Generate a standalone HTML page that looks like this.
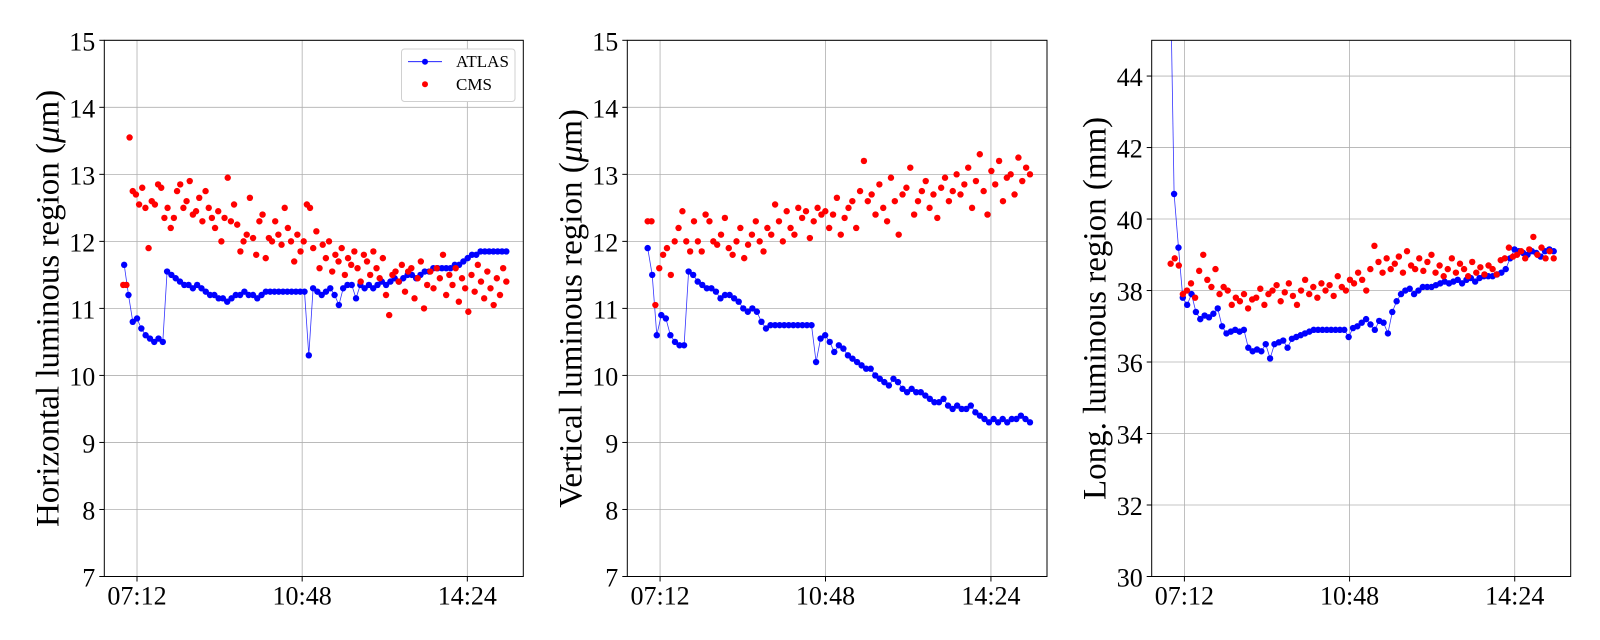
<!DOCTYPE html>
<html><head><meta charset="utf-8"><style>
html,body{margin:0;padding:0;background:#fff;}
svg{display:block;font-family:"Liberation Serif",serif;}
</style></head><body>
<svg id="c" width="1600" height="640" xmlns="http://www.w3.org/2000/svg"></svg>
<script>
const xTickLabels = ["07:12","10:48","14:24"];
const xTickHours = [7.2, 10.8, 14.4];
const p1Ticks = [7,8,9,10,11,12,13,14,15];
const p2Ticks = [7,8,9,10,11,12,13,14,15];
const p3Ticks = [30,32,34,36,38,40,42,44];
const atlasH = [11.65,11.2,10.8,10.85,10.7,10.6,10.55,10.5,10.55,10.5,11.55,11.5,11.45,11.4,11.35,11.35,11.3,11.35,11.3,11.25,11.2,11.2,11.15,11.15,11.1,11.15,11.2,11.2,11.25,11.2,11.2,11.15,11.2,11.25,11.25,11.25,11.25,11.25,11.25,11.25,11.25,11.25,11.25,10.3,11.3,11.25,11.2,11.25,11.3,11.2,11.05,11.3,11.35,11.35,11.15,11.35,11.3,11.35,11.3,11.35,11.4,11.35,11.4,11.45,11.4,11.45,11.5,11.5,11.45,11.5,11.55,11.55,11.6,11.6,11.6,11.6,11.6,11.65,11.65,11.7,11.75,11.8,11.8,11.85,11.85,11.85,11.85,11.85,11.85,11.85];
const cmsH = [11.35,11.35,13.55,12.75,12.7,12.55,12.8,12.5,11.9,12.6,12.55,12.85,12.8,12.35,12.5,12.2,12.35,12.75,12.85,12.5,12.6,12.9,12.4,12.45,12.65,12.3,12.75,12.5,12.35,12.2,12.45,12.0,12.35,12.95,12.3,12.55,12.25,11.85,12.0,12.1,12.65,12.05,11.8,12.3,12.4,11.75,12.05,12.0,12.3,12.1,11.95,12.5,12.2,12.0,11.7,12.1,11.85,12.0,12.55,12.5,11.9,12.15,11.6,11.95,11.75,12.0,11.55,11.8,11.7,11.9,11.5,11.75,11.65,11.85,11.6,11.4,11.8,11.7,11.5,11.85,11.6,11.45,11.75,11.2,10.9,11.5,11.55,11.4,11.65,11.25,11.55,11.6,11.15,11.45,11.7,11.0,11.35,11.55,11.3,11.6,11.45,11.8,11.2,11.5,11.35,11.6,11.1,11.45,11.3,10.95,11.5,11.25,11.65,11.4,11.15,11.55,11.3,11.05,11.45,11.2,11.6,11.4];
const atlasV = [11.9,11.5,10.6,10.9,10.85,10.6,10.5,10.45,10.45,11.55,11.5,11.4,11.35,11.3,11.3,11.25,11.15,11.2,11.2,11.15,11.1,11.0,10.95,11.0,10.95,10.8,10.7,10.75,10.75,10.75,10.75,10.75,10.75,10.75,10.75,10.75,10.75,10.2,10.55,10.6,10.5,10.35,10.45,10.4,10.3,10.25,10.2,10.15,10.1,10.1,10.0,9.95,9.9,9.85,9.95,9.9,9.8,9.75,9.8,9.75,9.75,9.7,9.65,9.6,9.6,9.65,9.55,9.5,9.55,9.5,9.5,9.55,9.45,9.4,9.35,9.3,9.35,9.3,9.35,9.3,9.35,9.35,9.4,9.35,9.3];
const cmsV = [12.3,12.3,11.05,11.6,11.8,11.9,11.5,12.0,12.2,12.45,12.0,11.85,12.3,12.0,11.85,12.4,12.3,12.0,11.95,12.1,12.35,11.9,11.8,12.0,12.2,11.75,11.95,12.1,12.3,12.0,11.85,12.2,12.1,12.55,12.3,12.0,12.45,12.2,12.1,12.5,12.35,12.45,12.05,12.3,12.5,12.4,12.45,12.2,12.4,12.65,12.1,12.35,12.5,12.6,12.2,12.75,13.2,12.6,12.7,12.4,12.85,12.5,12.3,12.95,12.6,12.1,12.7,12.8,13.1,12.4,12.6,12.75,12.9,12.5,12.7,12.35,12.8,12.95,12.6,12.75,13.0,12.7,12.85,13.1,12.5,12.9,13.3,12.75,12.4,13.05,12.85,13.2,12.6,12.95,13.0,12.7,13.25,12.9,13.1,13.0];
const atlasL = [48,40.7,39.2,37.8,37.6,37.9,37.4,37.2,37.3,37.25,37.35,37.5,37.0,36.8,36.85,36.9,36.85,36.9,36.4,36.3,36.35,36.3,36.5,36.1,36.5,36.55,36.6,36.4,36.65,36.7,36.75,36.8,36.85,36.9,36.9,36.9,36.9,36.9,36.9,36.9,36.9,36.7,36.95,37.0,37.1,37.2,37.05,36.9,37.15,37.1,36.8,37.4,37.7,37.9,38.0,38.05,37.9,38.0,38.1,38.1,38.1,38.15,38.2,38.25,38.2,38.25,38.3,38.2,38.3,38.35,38.25,38.35,38.4,38.4,38.4,38.45,38.5,38.6,38.9,39.15,39.1,39.05,39.0,39.1,39.05,38.95,39.1,39.15,39.1];
const cmsL = [38.75,38.9,38.7,37.9,38.0,38.2,37.8,38.55,39.0,38.3,38.1,38.6,37.9,38.1,38.0,37.6,37.8,37.7,37.9,37.5,37.75,37.8,38.05,37.6,37.9,38.0,38.15,37.7,37.95,38.2,37.85,37.6,38.0,38.3,37.9,38.1,37.8,38.2,38.0,38.15,37.85,38.4,38.1,38.0,38.3,38.2,38.5,38.3,38.0,38.6,39.25,38.8,38.5,38.9,38.6,38.75,38.95,38.5,39.1,38.7,38.6,38.9,38.55,38.8,39.0,38.5,38.7,38.4,38.6,38.9,38.5,38.75,38.6,38.4,38.8,38.5,38.65,38.45,38.7,38.6,38.45,38.85,38.9,39.2,38.95,39.0,39.1,38.9,39.15,39.5,39.0,39.2,38.9,39.1,38.9];

const NS="http://www.w3.org/2000/svg";
const svg=document.getElementById('c');
function mk(tag,attrs,parent){const e=document.createElementNS(NS,tag);for(const k in attrs)e.setAttribute(k,attrs[k]);(parent||svg).appendChild(e);return e;}

const panels=[
 {x0:104.3,x1:523.3,yMin:7,yMax:15,ticks:p1Ticks,label:"Horizontal luminous region (",mu:true,atlas:atlasH,cms:cmsH,aT:[6.92,15.25],cT:[6.9,15.25],legend:true,name:"horizontal"},
 {x0:627.3,x1:1047,yMin:7,yMax:15,ticks:p2Ticks,label:"Vertical luminous region (",mu:true,atlas:atlasV,cms:cmsV,aT:[6.93,15.25],cT:[6.93,15.25],name:"vertical"},
 {x0:1151.7,x1:1570.7,yMin:30,yMax:45,ticks:p3Ticks,label:"Long. luminous region (mm)",mu:false,atlas:atlasL,cms:cmsL,aT:[6.88,15.25],cT:[6.9,15.25],name:"longitudinal"}
];
const Y0=40.3,Y1=576.5,H0=6.487,H1=15.62;
panels.forEach(p=>{
 const g=mk('g',{});
 
 
 const xs=h=>p.x0+(h-H0)/(H1-H0)*(p.x1-p.x0);
 const ys=v=>Y1-(v-p.yMin)/(p.yMax-p.yMin)*(Y1-Y0);
 const cid='clip-'+p.name;
 const cp=mk('clipPath',{id:cid},g);mk('rect',{x:p.x0,y:Y0,width:p.x1-p.x0,height:Y1-Y0},cp);
 p.ticks.forEach(t=>{const y=ys(t);
  const l=mk('line',{x1:p.x0,x2:p.x1,y1:y,y2:y,stroke:'#b0b0b0','stroke-width':0.8},g);
  
  mk('line',{x1:p.x0-5,x2:p.x0,y1:y,y2:y,stroke:'#000','stroke-width':1},g);
  const tx=mk('text',{x:p.x0-9,y:y+10,'text-anchor':'end','font-size':26},g);tx.textContent=t;
  
 });
 xTickHours.forEach((h,i)=>{const x=xs(h);
  const l=mk('line',{x1:x,x2:x,y1:Y0,y2:Y1,stroke:'#b0b0b0','stroke-width':0.8},g);
  
  mk('line',{x1:x,x2:x,y1:Y1,y2:Y1+5,stroke:'#000','stroke-width':1},g);
  const tx=mk('text',{x:x,y:Y1+28,'text-anchor':'middle','font-size':26},g);tx.textContent=xTickLabels[i];
  
 });
 const dg=mk('g',{'clip-path':'url(#'+cid+')'},g);
 const n=p.atlas.length,aStep=(p.aT[1]-p.aT[0])/(n-1);
 let d='';p.atlas.forEach((v,i)=>{d+=(i?'L':'M')+xs(p.aT[0]+i*aStep).toFixed(1)+','+ys(v).toFixed(1);});
 const pl=mk('path',{d:d,fill:'none',stroke:'#0000ff','stroke-width':0.8,opacity:0.8},dg);
 
 p.atlas.forEach((v,i)=>{const c=mk('circle',{cx:xs(p.aT[0]+i*aStep),cy:ys(v),r:3.2,fill:'#0000ff'},dg);
  });
 const m=p.cms.length,cStep=(p.cT[1]-p.cT[0])/(m-1);
 p.cms.forEach((v,i)=>{const c=mk('circle',{cx:xs(p.cT[0]+i*cStep),cy:ys(v),r:3.2,fill:'#ff0000'},dg);
  });
 const fr=mk('rect',{x:p.x0,y:Y0,width:p.x1-p.x0,height:Y1-Y0,fill:'none',stroke:'#000','stroke-width':1},g);
 
 const cy=(Y0+Y1)/2,lx=p.x0-46;
 const yl=mk('text',{x:lx,y:cy,'text-anchor':'middle','font-size':33,transform:'rotate(-90 '+lx+' '+cy+')'},g);
 
 yl.appendChild(document.createTextNode(p.label));
 if(p.mu){const ts=mk('tspan',{'font-style':'italic'},yl);ts.textContent='\u03bc';
  const ts2=mk('tspan',{},yl);ts2.textContent='m)';}
 if(p.legend){
  const lg=mk('g',{},g);
  mk('rect',{x:401.5,y:49,width:113.5,height:52.5,rx:3,fill:'#fff',stroke:'#d0d0d0','stroke-width':1},lg);
  mk('line',{x1:408,x2:442,y1:61.7,y2:61.7,stroke:'#0000ff','stroke-width':0.8},lg);
  mk('circle',{cx:425,cy:61.7,r:3,fill:'#0000ff'},lg);
  const t1=mk('text',{x:456,y:67,'font-size':17},lg);t1.textContent='ATLAS';
  
  mk('circle',{cx:425,cy:84.3,r:3,fill:'#ff0000'},lg);
  const t2=mk('text',{x:456,y:90,'font-size':17},lg);t2.textContent='CMS';
  
 }
});
</script>
</body></html>
